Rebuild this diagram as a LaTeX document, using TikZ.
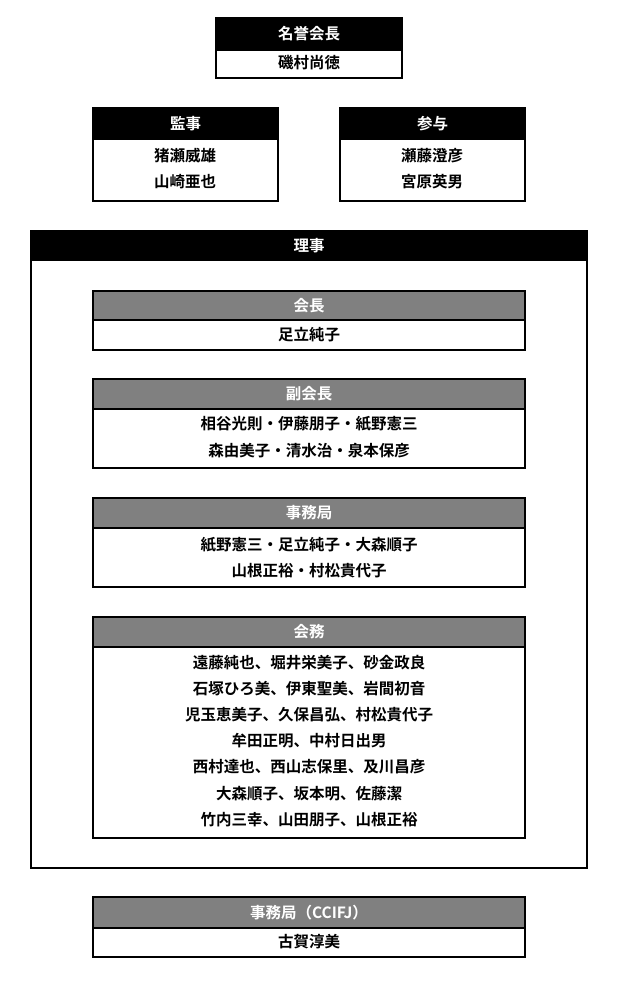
\documentclass[tikz,border=0pt]{standalone}
\usepackage{fontspec}
\setmainfont{Noto Sans CJK JP}[BoldFont={Noto Sans CJK JP Bold}]
\newcommand\fsz{\bfseries\fontsize{15.5}{17}\selectfont}
\begin{document}
\begin{tikzpicture}[x=1pt,y=-1pt,
  frame/.style={draw=black,line width=2pt,fill=white,inner sep=0pt},
  hdblack/.style={draw=black,line width=2pt,fill=black,inner sep=0pt},
  hdgray/.style={draw=black,line width=2pt,fill=black!50,inner sep=0pt},
  htxt/.style={text=white,font=\fsz,inner sep=0pt},
  txt/.style={font=\fsz,inner sep=0pt}]
\useasboundingbox[fill=white] (0,0) rectangle (620,985);
\newcommand\bx[7]{%
  \node[frame,minimum width=#3-#2,minimum height=#6-#4] (#1) at ({(#2+#3)/2},{(#4+#6)/2}) {};
  \node[#7,minimum width=#3-#2,minimum height=#5-#4] (#1h) at ({(#2+#3)/2},{(#4+#5)/2}) {};}
\bx{hon}{216}{402}{18}{50}{78}{hdblack}
\node[htxt] at (honh) {名誉会長};
\node[txt] (hon1) at (309,63) {磯村尚徳};
\bx{aud}{93}{278}{108}{139}{201}{hdblack}
\node[htxt] at (audh) {監事};
\node[txt] (aud1) at (185,156) {猪瀬威雄};
\node[txt] (aud2) at (185,182) {山崎亜也};
\bx{adv}{340}{525}{108}{139}{201}{hdblack}
\node[htxt] at (advh) {参与};
\node[txt] (adv1) at (432,156) {瀬藤澄彦};
\node[txt] (adv2) at (432,182) {宮原英男};
\bx{brd}{31}{587}{231}{260}{868}{hdblack}
\node[htxt] at (brdh) {理事};
\bx{pre}{93}{525}{291}{320}{350}{hdgray}
\node[htxt] at (preh) {会長};
\node[txt] (pre1) at (309,335) {足立純子};
\bx{vp}{93}{525}{379}{409}{468}{hdgray}
\node[htxt] at (vph) {副会長};
\node[txt] (vp1) at (309,424) {相谷光則・伊藤朋子・紙野憲三};
\node[txt] (vp2) at (309,451) {森由美子・清水治・泉本保彦};
\bx{sec}{93}{525}{498}{528}{587}{hdgray}
\node[htxt] at (sech) {事務局};
\node[txt] (sec1) at (309,545) {紙野憲三・足立純子・大森順子};
\node[txt] (sec2) at (309,571) {山根正裕・村松貴代子};
\bx{mem}{93}{525}{617}{647}{838}{hdgray}
\node[htxt] at (memh) {会務};
\node[txt] (m1) at (309,663) {遠藤純也、堀井栄美子、砂金政良};
\node[txt] (m2) at (309,689) {石塚ひろ美、伊東聖美、岩間初音};
\node[txt] (m3) at (309,715) {児玉恵美子、久保昌弘、村松貴代子};
\node[txt] (m4) at (309,741) {牟田正明、中村日出男};
\node[txt] (m5) at (309,767) {西村達也、西山志保里、及川昌彦};
\node[txt] (m6) at (309,794) {大森順子、坂本明、佐藤潔};
\node[txt] (m7) at (309,820) {竹内三幸、山田朋子、山根正裕};
\bx{cc}{93}{525}{897}{928}{957}{hdgray}
\node[htxt] at (cch) {事務局（CCIFJ）};
\node[txt] (cc1) at (309,942) {古賀淳美};
\end{tikzpicture}
\end{document}
